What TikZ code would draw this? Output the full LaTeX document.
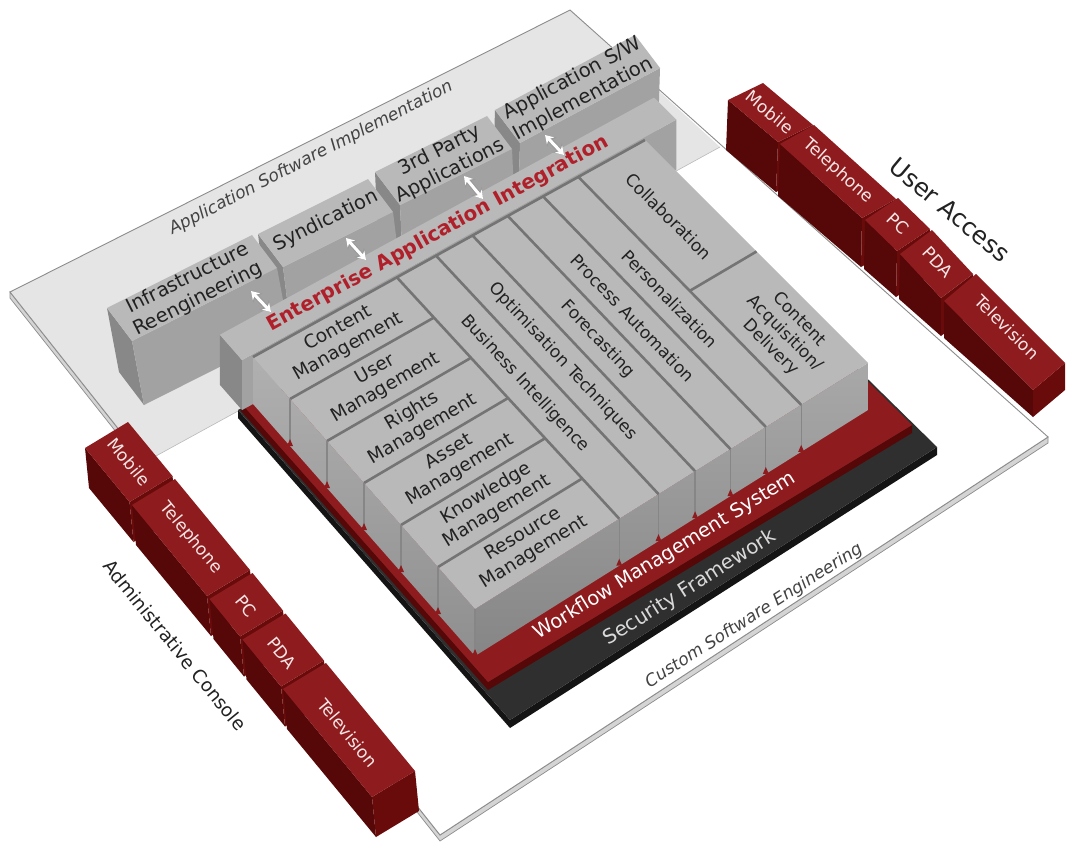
\documentclass[tikz,border=0pt]{standalone}
\usepackage{fontspec}
\setmainfont{DejaVu Sans}
\usetikzlibrary{calc,arrows.meta}

\definecolor{redtop}{HTML}{8E1C1F}
\definecolor{redside}{HTML}{560707}
\definecolor{redend}{HTML}{6A0B0B}
\definecolor{redtxt}{HTML}{F6E6E6}
\definecolor{blktop}{HTML}{2F2F2F}
\definecolor{blkside}{HTML}{141414}
\definecolor{gtop}{HTML}{B9B9B9}
\definecolor{gfront}{HTML}{A2A2A2}
\definecolor{gleft}{HTML}{888888}
\definecolor{groove}{HTML}{747474}
\definecolor{plategray}{HTML}{E5E5E5}
\definecolor{plateside}{HTML}{D4D4D4}
\definecolor{plateedge}{HTML}{8C8C8C}
\definecolor{eaired}{HTML}{B0202A}
\definecolor{txt}{HTML}{222222}

\makeatletter
\def\tw@parse#1,#2,#3\@nil{\def\tw@s{#1}\def\tw@t{#2}\def\tw@h{#3}}
\tikzdeclarecoordinatesystem{tw}{%
  \tw@parse#1\@nil
  \pgfmathsetmacro\tw@x{253+222*(\tw@s)+392*(\tw@t)+(\tw@s)*(\tw@t)}%
  \pgfmathsetmacro\tw@y{357+252*(\tw@s)-217*(\tw@t)-29*(\tw@s)*(\tw@t)+(\tw@h)}%
  \pgfpointxy{\tw@x}{\tw@y}%
}
\makeatother

% gray box: #1 left corner, #2 t-vector, #3 drop, #4 name
\newcommand\mygbox[4]{%
  \coordinate (#4a) at (#1);
  \coordinate (#4b) at ($(#4a)+(25,33)$);
  \coordinate (#4c) at ($(#4b)+(#2)$);
  \coordinate (#4d) at ($(#4a)+(#2)$);
  \fill[gleft] (#4a) -- (#4b) -- ($(#4b)+(#3)$) -- ($(#4a)+(#3)$) -- cycle;
  \fill[gfront] (#4b) -- (#4c) -- ($(#4c)+(#3)$) -- ($(#4b)+(#3)$) -- cycle;
  \fill[gtop] (#4a) -- (#4b) -- (#4c) -- (#4d) -- cycle;
}
% red box: #1 p0, #2 p1, #3 width vector, #4 drop at p0, #5 drop at p1, #6 name
\newcommand\myrbox[6]{%
  \coordinate (#6p) at (#1);
  \coordinate (#6q) at (#2);
  \fill[redside] (#6p) -- (#6q) -- ($(#6q)+(#5)$) -- ($(#6p)+(#4)$) -- cycle;
  \fill[redend] (#6q) -- ($(#6q)+(#3)$) -- ($(#6q)+(#3)+(#5)$) -- ($(#6q)+(#5)$) -- cycle;
  \fill[redtop] (#6p) -- (#6q) -- ($(#6q)+(#3)$) -- ($(#6p)+(#3)$) -- cycle;
}

\begin{document}
\begin{tikzpicture}[x=1pt,y=-1pt,
  lbl/.style={text=txt, align=center, inner sep=0pt, font=\fontsize{18.5}{21}\selectfont},
  collbl/.style={text=txt, align=center, inner sep=0pt, font=\fontsize{17}{20}\selectfont},
  toplbl/.style={text=txt, align=center, inner sep=0pt, font=\fontsize{19.5}{23}\selectfont},
  redlbl/.style={text=redtxt, inner sep=0pt, font=\fontsize{17}{19}\selectfont},
  sidelbl/.style={text=txt, inner sep=0pt},
  platelbl/.style={text=txt!85, inner sep=0pt, font=\itshape\fontsize{17}{19}\selectfont},
  grv/.style={draw=groove, line width=2.6pt},
  arrout/.style={draw=gray!80, line width=5pt, {Stealth[length=10pt,width=13pt]}-{Stealth[length=10pt,width=13pt]}},
  arrin/.style={draw=white, line width=3pt, {Stealth[length=8pt,width=10pt]}-{Stealth[length=8pt,width=10pt]}}
]
\useasboundingbox (0,0) rectangle (1070,846);
\fill[white] (0,0) rectangle (1070,846);

% ---------- base plate ----------
\coordinate (L) at (10,292);
\coordinate (T) at (570,10);
\coordinate (R) at (1048,437);
\coordinate (B) at (440,835);
\coordinate (G1) at (145,462);
\coordinate (G2) at (720,147);
\filldraw[fill=plateside, draw=plateedge, line width=0.7pt] (L) -- (B) -- (R) -- ($(R)+(0,6)$) -- ($(B)+(0,6)$) -- ($(L)+(0,6)$) -- cycle;
\fill[white] (L) -- (T) -- (R) -- (B) -- cycle;
\fill[plategray] (L) -- (T) -- (G2) -- (G1) -- cycle;
\draw[plateedge!60, line width=0.6pt] (G1) -- (G2);
\draw[plateedge, line width=0.9pt] (L) -- (T) -- (R) -- (B) -- cycle;

\node[platelbl, rotate=27.3] (asi) at (311,158) {Application Software Implementation};
\node[platelbl, rotate=32.5] (cse) at (754,616) {Custom Software Engineering};

% ---------- top boxes ----------
\mygbox{495,110}{140,-75}{-2,64}{aps}
\mygbox{375,172}{112,-56}{3,64}{thp}
\mygbox{258,234}{110,-55}{8,64}{syn}
\mygbox{107,308}{145,-73}{12,64}{inf}
\node[toplbl, rotate=28.2] (apsl) at (578,89) {Application S/W\\Implementation};
\node[toplbl, rotate=26.6] (thpl) at (445,161) {3rd Party\\Applications};
\node[toplbl, rotate=26.6] (synl) at (326,221) {Syndication};
\node[toplbl, rotate=26.7] (infl) at (193,289) {Infrastructure\\Reengineering};

% ---------- security (black) slab ----------
\coordinate (BL) at (238,410);
\coordinate (BF) at (510,720);
\coordinate (BR) at (937,447);
\coordinate (BB) at (665,180);
\fill[blkside] (BL) -- (BF) -- (BR) -- ($(BR)+(0,8)$) -- ($(BF)+(0,8)$) -- ($(BL)+(0,8)$) -- cycle;
\fill[blktop] (BL) -- (BF) -- (BR) -- (BB) -- cycle;
% ---------- workflow (red) slab ----------
\coordinate (RL) at (241,403);
\coordinate (RF) at (488,682);
\coordinate (RR) at (912,425);
\coordinate (RB) at (655,172);
\fill[redside] (RL) -- (RF) -- (RR) -- ($(RR)+(0,8)$) -- ($(RF)+(0,8)$) -- ($(RL)+(0,8)$) -- cycle;
\fill[redtop] (RL) -- (RF) -- (RR) -- (RB) -- cycle;
\node[inner sep=0pt, text=white, font=\fontsize{19.5}{21}\selectfont, rotate=31.5] (wfl) at (665,556) {Workflow Management System};
\node[inner sep=0pt, text=white!85!black, font=\fontsize{20}{22}\selectfont, rotate=32.2] (sfl) at (690,588) {Security Framework};

% ---------- EAI band ----------
\coordinate (e1) at (tw cs:-0.1,-0.028,-3);
\coordinate (e2) at (tw cs:0,-0.028,-3);
\coordinate (e3) at (tw cs:0,1.08,-3);
\coordinate (e4) at (tw cs:-0.1,1.08,-3);
\coordinate (e1b) at (tw cs:-0.1,-0.028,47);
\coordinate (e2b) at (tw cs:0,-0.028,47);
\coordinate (e3b) at (tw cs:0,1.08,47);
\fill[gleft] (e1) -- (e2) -- (e2b) -- (e1b) -- cycle;
\fill[gfront] (e2) -- (e3) -- (e3b) -- (e2b) -- cycle;
\fill[gtop] (e1) -- (e2) -- (e3) -- (e4) -- cycle;
\node[inner sep=0pt, text=eaired, font=\bfseries\fontsize{20}{22}\selectfont, rotate=28.8] (eail) at (tw cs:-0.05,0.5,-3) {Enterprise Application Integration};

% ---------- tower ----------
\coordinate (c00) at (tw cs:0,0,0);
\coordinate (c10) at (tw cs:1,0,0);
\coordinate (c11) at (tw cs:1,1,0);
\coordinate (c01) at (tw cs:0,1,0);
\coordinate (c00b) at (tw cs:0,0,47);
\coordinate (c10b) at (tw cs:1,0,47);
\coordinate (c11b) at (tw cs:1,1,47);
\shade[top color=gray!62, bottom color=gray!88] (c00) -- (c10) -- (c10b) -- (c00b) -- cycle;
\shade[top color=gray!68, bottom color=gray!95] (c10) -- (c11) -- (c11b) -- (c10b) -- cycle;
\fill[gtop] (c00) -- (c10) -- (c11) -- (c01) -- cycle;
% grooves on top
\draw[grv] (tw cs:0,0,0) -- (tw cs:0,1,0);
\foreach \k in {1,...,5} {\draw[grv] (tw cs:\k/6,0,0) -- (tw cs:\k/6,0.367,0);}
\foreach \tt in {0.367,0.467,0.56,0.65,0.74,0.83} {\draw[grv] (tw cs:0,\tt,0) -- (tw cs:1,\tt,0);}
\draw[grv] (tw cs:0.5,0.83,0) -- (tw cs:0.5,1,0);
% dividers on side faces + notches
\foreach \k in {1,...,6} {
  \draw[draw=gray!95, line width=1.2pt] (tw cs:\k/6,0,0) -- (tw cs:\k/6,0,47);
  \coordinate (nk) at (tw cs:\k/6,0,47);
  \fill[redtop] ($(nk)+(-3,0)$) -- ($(nk)+(0,-7)$) -- ($(nk)+(3,0)$) -- cycle;
}
\foreach \tt in {0.367,0.467,0.56,0.65,0.74,0.83} {
  \draw[draw=gray!95, line width=1.2pt] (tw cs:1,\tt,0) -- (tw cs:1,\tt,47);
  \coordinate (nt) at (tw cs:1,\tt,47);
  \fill[redtop] ($(nt)+(-3,0)$) -- ($(nt)+(0,-7)$) -- ($(nt)+(3,0)$) -- cycle;
}
% management labels
\node[lbl, rotate=29.2] (m1) at (tw cs:0.0833,0.1835,0) {Content\\Management};
\node[lbl, rotate=29.8] (m2) at (tw cs:0.25,0.1835,0) {User\\Management};
\node[lbl, rotate=30.3] (m3) at (tw cs:0.4167,0.1835,0) {Rights\\Management};
\node[lbl, rotate=30.8] (m4) at (tw cs:0.5833,0.1835,0) {Asset\\Management};
\node[lbl, rotate=31.3] (m5) at (tw cs:0.75,0.1835,0) {Knowledge\\Management};
\node[lbl, rotate=31.8] (m6) at (tw cs:0.9167,0.1835,0) {Resource\\Management};
% column labels
\node[collbl, rotate=-47.2] (k1) at (tw cs:0.488,0.417,0) {Business Intelligence};
\node[collbl, rotate=-46.8] (k2) at (tw cs:0.489,0.513,0) {Optimisation Techniques};
\node[collbl, rotate=-46.5] (k3) at (tw cs:0.484,0.605,0) {Forecasting};
\node[collbl, rotate=-46.2] (k4) at (tw cs:0.483,0.695,0) {Process Automation};
\node[collbl, rotate=-45.8] (k5) at (tw cs:0.49,0.785,0) {Personalization};
\node[collbl, rotate=-45.3] (k6) at (tw cs:0.257,0.915,0) {Collaboration};
\node[collbl, rotate=-45.3] (k7) at (tw cs:0.777,0.915,0) {Content\\Acquisition/\\Delivery};

% ---------- arrows ----------
\coordinate (a1s) at (251,291); \coordinate (a1e) at (271,312);
\coordinate (a2s) at (346,238); \coordinate (a2e) at (366,260);
\coordinate (a3s) at (464,176); \coordinate (a3e) at (483,199);
\coordinate (a4s) at (545,135); \coordinate (a4e) at (564,155);
\foreach \i in {1,2,3,4} {\draw[arrout] (a\i s) -- (a\i e); \draw[arrin] (a\i s) -- (a\i e);}

% ---------- administrative console ----------
\myrbox{85,448}{129.5,502}{43,-26}{4,40}{4,40}{ad1}
\myrbox{132,505}{207,596}{43,-26}{4,40}{4,40}{ad2}
\myrbox{209.5,599}{240,636.5}{43,-26}{4,40}{4,40}{ad3}
\myrbox{242.5,639.5}{281,686.5}{43,-26}{4,40}{4,40}{ad4}
\myrbox{283,689}{372,797}{43,-26}{4,40}{4,40}{ad5}
\node[redlbl, rotate=-50.6] (ad1l) at (129,462) {Mobile};
\node[redlbl, rotate=-50.6] (ad2l) at (191,538) {Telephone};
\node[redlbl, rotate=-50.6] (ad3l) at (246,606) {PC};
\node[redlbl, rotate=-50.6] (ad4l) at (282,653) {PDA};
\node[redlbl, rotate=-50.6] (ad5l) at (348,733) {Television};
\node[sidelbl, font=\fontsize{18.5}{20}\selectfont, rotate=-50.8] (adl) at (175,645) {Administrative Console};

% ---------- user access ----------
\myrbox{728,100}{778,142}{35,-17}{-2,50}{-2,50}{us1}
\myrbox{780,144}{862,218}{34,-19}{-2,52}{-1,49}{us2}
\myrbox{865,220}{897,251}{33,-22}{-1,49}{-1,46}{us3}
\myrbox{900,254}{941,298}{32,-24}{-1,45}{0,38}{us4}
\myrbox{944,301}{1033,390}{32,-27}{0,37}{0,27}{us5}
\node[redlbl, rotate=-40] (us1l) at (770,112) {Mobile};
\node[redlbl, rotate=-42] (us2l) at (838,171) {Telephone};
\node[redlbl, rotate=-44] (us3l) at (898,224) {PC};
\node[redlbl, rotate=-47] (us4l) at (938,262) {PDA};
\node[redlbl, rotate=-45] (us5l) at (1007,327) {Television};
\node[sidelbl, font=\fontsize{24.5}{26}\selectfont, rotate=-39.8] (usl) at (950,210) {User Access};
\end{tikzpicture}
\end{document}
